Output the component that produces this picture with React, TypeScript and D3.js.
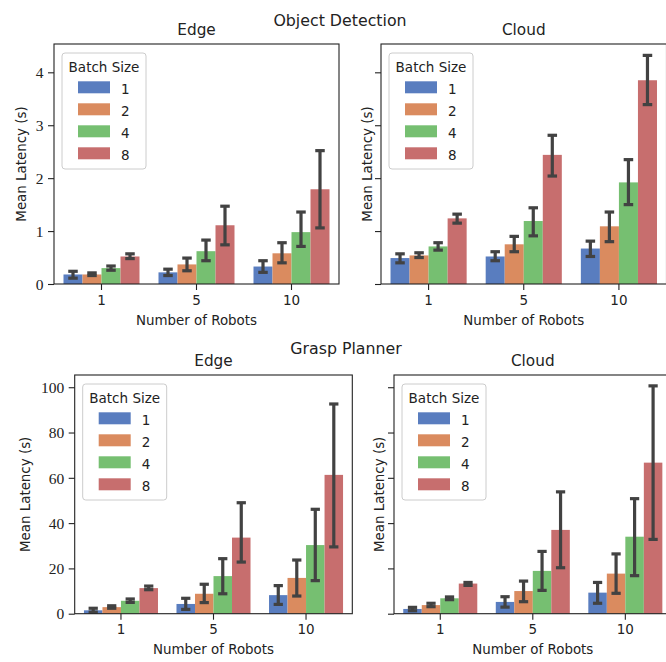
import React, { useEffect, useRef } from 'react';
import * as d3 from 'd3';

const robots: string[] = ['1', '5', '10'];
const batchSizes: string[] = ['1', '2', '4', '8'];

// rows = batch size, columns = number of robots
const odEdgeMean = [[0.18, 0.22, 0.33], [0.18, 0.37, 0.58], [0.3, 0.62, 0.98], [0.52, 1.11, 1.79]];
const odEdgeLow = [[0.11, 0.16, 0.22], [0.16, 0.25, 0.4], [0.26, 0.44, 0.71], [0.48, 0.74, 1.06]];
const odEdgeHigh = [[0.24, 0.28, 0.44], [0.21, 0.49, 0.78], [0.34, 0.83, 1.36], [0.57, 1.47, 2.52]];

const odCloudMean = [[0.49, 0.52, 0.67], [0.54, 0.75, 1.09], [0.71, 1.19, 1.92], [1.24, 2.44, 3.85]];
const odCloudLow = [[0.4, 0.44, 0.52], [0.5, 0.61, 0.8], [0.64, 0.91, 1.5], [1.15, 2.04, 3.39]];
const odCloudHigh = [[0.57, 0.61, 0.81], [0.59, 0.9, 1.36], [0.78, 1.44, 2.35], [1.32, 2.81, 4.32]];

const gpEdgeMean = [[1.5, 4.3, 8.2], [2.9, 8.8, 15.8], [5.7, 16.6, 30.3], [11.3, 33.6, 61.3]];
const gpEdgeLow = [[0.7, 1.9, 4.1], [2.4, 4.9, 7.8], [5.0, 8.8, 14.6], [10.6, 22.8, 29.5]];
const gpEdgeHigh = [[2.4, 6.8, 12.4], [3.5, 13.0, 23.7], [6.5, 24.3, 46.1], [12.2, 49.0, 92.6]];

const gpCloudMean = [[2.1, 5.2, 9.3], [3.8, 10.0, 17.7], [6.8, 18.9, 34.0], [13.3, 37.0, 66.7]];
const gpCloudLow = [[1.3, 2.9, 4.6], [3.1, 5.3, 9.0], [6.2, 10.3, 16.8], [12.5, 20.3, 32.8]];
const gpCloudHigh = [[2.8, 7.5, 13.8], [4.6, 14.4, 26.4], [7.4, 27.5, 50.8], [13.8, 53.8, 100.6]];

const odTicks = [0, 1, 2, 3, 4];
const gpTicks = [0, 20, 40, 60, 80, 100];

const colors: string[] = ['#597dbf', '#da8b5f', '#76bf71', '#c76e6e'];
const SANS = '"DejaVu Sans", sans-serif';
const SERIF = '"Liberation Serif", serif';

interface Panel {
  title: string;
  x: number;
  y: number;
  w: number;
  h: number;
  yMax: number;
  ticks: number[];
  tickLabels: boolean;
  ylabelOffset: number;
  mean: number[][];
  low: number[][];
  high: number[][];
}

const panels: Panel[] = [
  { title: 'Edge', x: 54, y: 44, w: 285, h: 240, yMax: 4.535, ticks: odTicks, tickLabels: true, ylabelOffset: 28.5, mean: odEdgeMean, low: odEdgeLow, high: odEdgeHigh },
  { title: 'Cloud', x: 381, y: 44, w: 285.5, h: 240, yMax: 4.535, ticks: odTicks, tickLabels: false, ylabelOffset: 9.5, mean: odCloudMean, low: odCloudLow, high: odCloudHigh },
  { title: 'Edge', x: 74.7, y: 375, w: 277.6, h: 238.7, yMax: 105.4, ticks: gpTicks, tickLabels: true, ylabelOffset: 44.5, mean: gpEdgeMean, low: gpEdgeLow, high: gpEdgeHigh },
  { title: 'Cloud', x: 394, y: 375, w: 277.6, h: 238.7, yMax: 105.4, ticks: gpTicks, tickLabels: false, ylabelOffset: 10.5, mean: gpCloudMean, low: gpCloudLow, high: gpCloudHigh },
];

const App: React.FC = () => {
  const chartRef = useRef<SVGSVGElement | null>(null);

  useEffect(() => {
    if (!chartRef.current) return;
    const svg = d3.select(chartRef.current);
    svg.selectAll('*').remove();

    // Figure titles
    svg.append('text').attr('x', 340).attr('y', 26).attr('text-anchor', 'middle')
      .attr('font-family', SANS).attr('font-size', 15.8).attr('fill', '#222').text('Object Detection');
    svg.append('text').attr('x', 346).attr('y', 353.5).attr('text-anchor', 'middle')
      .attr('font-family', SANS).attr('font-size', 15.8).attr('fill', '#222').text('Grasp Planner');

    panels.forEach((p) => {
      const g = svg.append('g').attr('transform', `translate(${p.x},${p.y})`);

      const x = d3.scaleBand<string>().domain(robots).range([0, p.w]).paddingInner(0.2).paddingOuter(0.1);
      const xInner = d3.scaleBand<string>().domain(batchSizes).range([0, x.bandwidth()]);
      const y = d3.scaleLinear().domain([0, p.yMax]).range([p.h, 0]);
      const capHalf = x.step() * 0.05;

      // Bars
      batchSizes.forEach((b, bi) => {
        g.selectAll(null)
          .data(robots)
          .enter()
          .append('rect')
          .attr('x', (r) => (x(r) || 0) + (xInner(b) || 0))
          .attr('y', (r, ri) => y(p.mean[bi][ri]))
          .attr('width', xInner.bandwidth())
          .attr('height', (r, ri) => p.h - y(p.mean[bi][ri]))
          .attr('fill', colors[bi]);
      });

      // Error bars
      batchSizes.forEach((b, bi) => {
        robots.forEach((r, ri) => {
          const cx = (x(r) || 0) + (xInner(b) || 0) + xInner.bandwidth() / 2;
          const eg = g.append('g').attr('stroke', '#424242').attr('stroke-width', 3.2);
          eg.append('line').attr('x1', cx).attr('x2', cx).attr('y1', y(p.low[bi][ri])).attr('y2', y(p.high[bi][ri]));
          [p.low[bi][ri], p.high[bi][ri]].forEach((v) => {
            eg.append('line').attr('x1', cx - capHalf).attr('x2', cx + capHalf).attr('y1', y(v)).attr('y2', y(v));
          });
        });
      });

      // Frame
      g.append('rect').attr('x', 0).attr('y', 0).attr('width', p.w).attr('height', p.h)
        .attr('fill', 'none').attr('stroke', '#222').attr('stroke-width', 1.1);

      // Y axis
      const yAxis = g.append('g').call(
        d3.axisLeft(y).tickValues(p.ticks).tickSize(6).tickPadding(4.5)
          .tickFormat((d) => (p.tickLabels ? String(d) : ''))
      );
      yAxis.select('.domain').remove();
      yAxis.selectAll('line').attr('stroke', '#222').attr('stroke-width', 1.1);
      yAxis.selectAll('text').attr('font-family', SERIF).attr('font-size', 15.5).attr('fill', '#222').attr('dy', '0.34em');

      // X axis
      const xAxis = g.append('g').attr('transform', `translate(0,${p.h})`)
        .call(d3.axisBottom(x).tickSize(6).tickPadding(5));
      xAxis.select('.domain').remove();
      xAxis.selectAll('line').attr('stroke', '#222').attr('stroke-width', 1.1);
      xAxis.selectAll('text').attr('font-family', SANS).attr('font-size', 13.5).attr('fill', '#222');

      // Labels
      g.append('text').attr('x', p.w / 2).attr('y', p.h + 40.5).attr('text-anchor', 'middle')
        .attr('font-family', SANS).attr('font-size', 13.4).attr('fill', '#222').text('Number of Robots');
      g.append('text').attr('transform', `translate(${-p.ylabelOffset},${p.h / 2}) rotate(-90)`)
        .attr('text-anchor', 'middle').attr('font-family', SANS).attr('font-size', 13.4).attr('fill', '#222')
        .text('Mean Latency (s)');
      g.append('text').attr('x', p.w / 2).attr('y', -8.8).attr('text-anchor', 'middle')
        .attr('font-family', SANS).attr('font-size', 15.3).attr('fill', '#222').text(p.title);

      // Legend
      const lg = g.append('g').attr('transform', 'translate(8,9)');
      lg.append('rect').attr('width', 84).attr('height', 116).attr('rx', 3)
        .attr('fill', 'white').attr('fill-opacity', 0.8).attr('stroke', '#ccc').attr('stroke-width', 1);
      lg.append('text').attr('x', 42).attr('y', 18.5).attr('text-anchor', 'middle')
        .attr('font-family', SANS).attr('font-size', 13.5).attr('fill', '#222').text('Batch Size');
      const items = lg.selectAll(null).data(batchSizes).enter().append('g')
        .attr('transform', (d, i) => `translate(16,${28.3 + i * 22})`);
      items.append('rect').attr('width', 32).attr('height', 12).attr('fill', (d, i) => colors[i]);
      items.append('text').attr('x', 43).attr('y', 12.3).attr('font-family', SANS).attr('font-size', 13.5)
        .attr('fill', '#222').text((d) => d);
    });
  }, []);

  return (
    <svg
      ref={chartRef}
      width={666}
      height={662}
      style={{ position: 'absolute', left: 0, top: 0, background: 'white' }}
    ></svg>
  );
};

export default App;
